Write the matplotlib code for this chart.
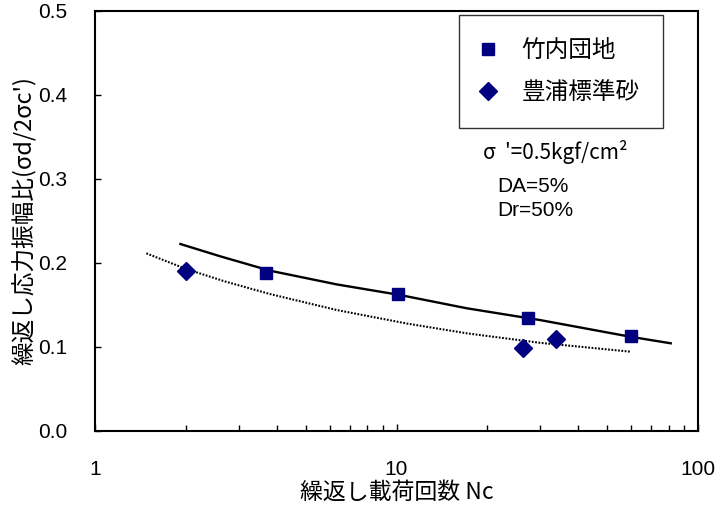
import matplotlib
matplotlib.use("Agg")
import matplotlib.pyplot as plt
from matplotlib.ticker import LogLocator, FixedLocator, NullFormatter, FuncFormatter
from matplotlib.lines import Line2D

plt.rcParams['font.family'] = ['Liberation Sans', 'Noto Sans CJK JP', 'DejaVu Sans']
JP = ['Noto Sans CJK JP', 'DejaVu Sans']

# Measured points
takeuchi_n = [3.7, 10.1, 27.2, 60.0]
takeuchi_ratio = [0.188, 0.163, 0.134, 0.113]

toyoura_n = [2.0, 26.2, 33.8]
toyoura_ratio = [0.190, 0.099, 0.110]

# Trend curves
takeuchi_fit_n = [1.92, 2.6, 3.81, 6.34, 10.27, 17.1, 29.9, 59.5, 81.2]
takeuchi_fit_ratio = [0.2226, 0.208, 0.1908, 0.1745, 0.1619, 0.1461, 0.1321, 0.1123, 0.1044]

toyoura_fit_n = [1.48, 2.0, 2.7, 3.81, 6.34, 10.8, 17.1, 29.9, 59.8]
toyoura_fit_ratio = [0.2115, 0.193, 0.178, 0.163, 0.144, 0.128, 0.1163, 0.105, 0.0944]

series_labels = ['竹内団地', '豊浦標準砂']
x_label = '繰返し載荷回数 Nc'
y_label = "繰返し応力振幅比(σd/2σc')"
conditions = ["σ  '=0.5kgf/cm²", 'DA=5%', 'Dr=50%']

navy = '#000080'

fig = plt.figure(figsize=(7.2, 5.16), dpi=100)
ax = fig.add_axes([95 / 720, 85 / 516, 603 / 720, 420 / 516])

ax.plot(takeuchi_fit_n, takeuchi_fit_ratio, color='black', lw=1.7, zorder=2)
ax.plot(toyoura_fit_n, toyoura_fit_ratio, color='black', lw=1.5,
        linestyle=(0, (0.85, 0.75)), zorder=2)

ax.plot(takeuchi_n, takeuchi_ratio, linestyle='none', marker='s', ms=8.6,
        mfc=navy, mec=navy, zorder=3)
ax.plot(toyoura_n, toyoura_ratio, linestyle='none', marker='D', ms=9.0,
        mfc=navy, mec=navy, zorder=3)

ax.set_xscale('log')
ax.set_xlim(1, 100)
ax.set_ylim(0, 0.5)

ax.xaxis.set_major_locator(FixedLocator([1, 10, 100]))
ax.xaxis.set_major_formatter(FuncFormatter(lambda v, p: f'{v:g}'))
ax.xaxis.set_minor_locator(LogLocator(base=10, subs=range(2, 10)))
ax.xaxis.set_minor_formatter(NullFormatter())
ax.set_yticks([0.0, 0.1, 0.2, 0.3, 0.4, 0.5])
ax.yaxis.set_major_formatter(FuncFormatter(lambda v, p: f'{v:.1f}'))

for s in ['top', 'right', 'left', 'bottom']:
    ax.spines[s].set_linewidth(1.5)

ax.tick_params(axis='both', which='both', direction='in', top=False, right=False,
               labelsize=15)
ax.tick_params(axis='y', which='major', length=4, width=1, pad=20)
ax.tick_params(axis='x', which='major', length=5, width=1, pad=21)
ax.tick_params(axis='x', which='minor', length=4, width=1)

ax.set_xlabel(x_label, fontsize=16.5, family=JP, labelpad=1)
ax.set_ylabel(y_label, fontsize=17, family=JP, labelpad=1)

handles = [
    Line2D([], [], linestyle='none', marker='s', ms=8.6, mfc=navy, mec=navy),
    Line2D([], [], linestyle='none', marker='D', ms=9.0, mfc=navy, mec=navy),
]
leg = ax.legend(handles, series_labels, loc='upper left',
                bbox_to_anchor=(0.6036, 0.99), prop={'family': JP, 'size': 17},
                frameon=True, fancybox=False, borderpad=1.0, labelspacing=0.82,
                handlelength=0.45, handletextpad=1.2, borderaxespad=0)
leg.get_frame().set_edgecolor('black')
leg.get_frame().set_linewidth(1.0)

ax.text(0.643, 0.664, conditions[0], transform=ax.transAxes, fontsize=15,
        family=JP, va='center', ha='left')
ax.text(0.667, 0.583, conditions[1], transform=ax.transAxes, fontsize=15,
        va='center', ha='left')
ax.text(0.667, 0.524, conditions[2], transform=ax.transAxes, fontsize=15,
        va='center', ha='left')

fig.savefig('out.png', dpi=100)
